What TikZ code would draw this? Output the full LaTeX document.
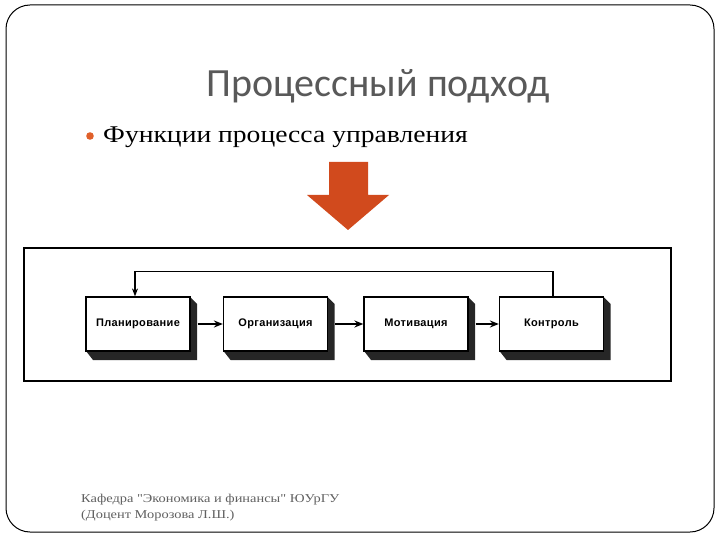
\documentclass[tikz,border=0pt]{standalone}
\usepackage{fontspec}
\setmainfont{Liberation Serif}
\newfontfamily\titlefont{Carlito}
\newfontfamily\bulletfont[FakeStretch=1.15]{Liberation Serif}
\newfontfamily\footfont[FakeStretch=1.2]{Liberation Serif}
\newfontfamily\boxfont[LetterSpace=3]{Liberation Sans}
\usetikzlibrary{arrows.meta}
\definecolor{titlegray}{HTML}{595959}
\definecolor{footgray}{HTML}{606060}
\definecolor{arroworange}{HTML}{D14A1D}
\definecolor{bulletorange}{HTML}{E0602A}
\tikzset{
  funcbox/.style={draw=black, line width=1.2pt, fill=white, minimum width=104pt, minimum height=54pt, inner sep=0pt, font=\boxfont\bfseries\fontsize{11}{13}\selectfont},
  flow/.style={line width=1.8pt, -{Stealth[length=9pt,width=7pt]}},
  shadowfill/.style={fill=black!85},
  footer/.style={anchor=base west, inner sep=0pt, text=footgray, font=\footfont\fontsize{12}{16}\selectfont},
}
\begin{document}
\begin{tikzpicture}[x=1pt,y=-1pt]
\useasboundingbox (0,0) rectangle (720,540);
% slide border
\draw[line width=1pt, rounded corners=24pt] (6,5) rectangle (714,532);
% title
\node[anchor=base, font=\titlefont\fontsize{40}{44}\selectfont, text=titlegray] (title) at (378,97) {Процессный подход};
% bullet
\fill[bulletorange] (90,136) circle (3.8pt);
\node[anchor=base west, inner sep=0pt, font=\bulletfont\fontsize{24}{28}\selectfont] (bullet) at (103,143) {Функции процесса управления};
% big arrow
\fill[arroworange] (329,162) -- (368,162) -- (368,195) -- (389,195) -- (348,230) -- (307,195) -- (329,195) -- cycle;
% frame
\draw[line width=1.6pt] (24,248) rectangle (671,381);
% boxes with shadows
\foreach \cx in {138, 275.5, 416, 551.5} {
  \fill[shadowfill] (\cx+52,297) -- (\cx+59,304) -- (\cx+59,360) -- (\cx-45,360) -- (\cx-52,351) -- (\cx+52,351) -- cycle;
}
\node[funcbox] (b1) at (138,324) {Планирование};
\node[funcbox] (b2) at (275.5,324) {Организация};
\node[funcbox] (b3) at (416,324) {Мотивация};
\node[funcbox] (b4) at (551.5,324) {Контроль};
% flow arrows
\draw[flow] ([xshift=7pt]b1.east) -- (b2.west);
\draw[flow] ([xshift=7pt]b2.east) -- (b3.west);
\draw[flow] ([xshift=7pt]b3.east) -- (b4.west);
% feedback
\coordinate (fbstart) at (553,297);
\coordinate (fbend) at (135,297);
\draw[line width=1.4pt, -{Stealth[length=8pt,width=6pt]}] (b4.north -| fbstart) -- ++(0,-25) -| (b1.north -| fbend);
% footer
\node[footer] (foot1) at (81,502) {Кафедра "Экономика и финансы" ЮУрГУ};
\node[footer] (foot2) at (81,518) {(Доцент Морозова Л.Ш.)};
\end{tikzpicture}
\end{document}
